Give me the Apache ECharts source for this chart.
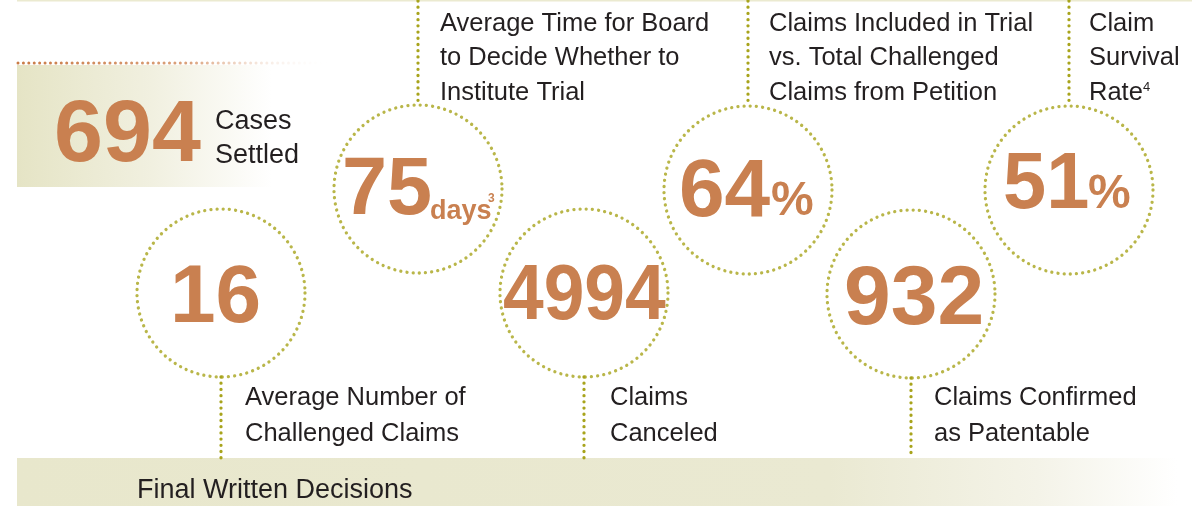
<!DOCTYPE html>
<html>
<head>
<meta charset="utf-8">
<script src="https://cdn.jsdelivr.net/npm/echarts@6/dist/echarts.min.js"></script>
<style>
html,body{margin:0;padding:0;background:#fff;}
#chart{width:1192px;height:506px;}
</style>
</head>
<body>
<div id="chart"></div>
<script>
// ---------- data ----------
const settledValue = '694';
const settledLabel = ['Cases', 'Settled'];
const statValues = ['16', '75', '4994', '64', '932', '51'];
const statUnits = ['', 'days', '', '%', '', '%'];
const statUnitNotes = ['', '3', '', '', '', ''];
const statLabels = [
  ['Average Number of', 'Challenged Claims'],
  ['Average Time for Board', 'to Decide Whether to', 'Institute Trial'],
  ['Claims', 'Canceled'],
  ['Claims Included in Trial', 'vs. Total Challenged', 'Claims from Petition'],
  ['Claims Confirmed', 'as Patentable'],
  ['Claim', 'Survival', 'Rate']
];
const statLabelNotes = ['', '', '', '', '', '4'];
const footerLabel = 'Final Written Decisions';

// ---------- layout (positions / styles) ----------
const W = 1192, H = 506;
const circleCenters = [[221, 293], [418, 189], [584, 293], [748, 190], [911, 294], [1069, 190]];
const circleR = 84;
const connectorSide = ['bottom', 'top', 'bottom', 'top', 'bottom', 'top'];
const bandTop = 458;
// number: [left x, center y, font size, scaleX]
const numberLayout = [[170, 299.5, 82, 1], [342, 191.5, 81, 1], [503, 297.5, 77, 0.95], [679, 193, 82, 1], [844, 300.5, 84, 1], [1003, 185.5, 80, 0.97]];
// unit: [x, y, font size]
const unitLayout = [null, [430, 212, 27], null, [771, 202, 48], null, [1088, 195, 48]];
const unitNoteLayout = [null, [488, 199, 12], null, null, null, null];
// label: [x, first line center y, line height]
const labelLayout = [[245, 398, 35.5], [440, 23.5, 34.5], [610, 398, 35.5], [769, 23.5, 34.5], [934, 398, 35.5], [1089, 23.5, 34.5]];
const labelNoteLayout = [null, null, null, null, null, [1143, 87, 13]];

const ORANGE = '#c98050';
const OLIVE = '#a8a41c';
const TEXT = '#231f20';
const FONT = '"Liberation Sans", Arial, Helvetica, sans-serif';
const DOTS = [0.01, 6.2];

const chart = echarts.init(document.getElementById('chart'), null, {renderer: 'canvas'});

const graphics = [];
// top hairline
graphics.push({type: 'rect', shape: {x: 17, y: 0, width: W - 17, height: 1.5}, style: {fill: '#ebead0'}, z: 1});
// 694 box
graphics.push({type: 'rect', shape: {x: 17, y: 65, width: 300, height: 122},
  style: {fill: new echarts.graphic.LinearGradient(0, 0, 1, 0, [
    {offset: 0, color: '#e5e4c5'}, {offset: 0.45, color: '#f1f0e0'}, {offset: 0.85, color: '#ffffff'}, {offset: 1, color: '#ffffff'}])}, z: 1});
graphics.push({type: 'line', shape: {x1: 18, y1: 63, x2: 330, y2: 63},
  style: {stroke: new echarts.graphic.LinearGradient(0, 0, 1, 0, [
    {offset: 0, color: '#c97a45'}, {offset: 0.55, color: '#dba27c'}, {offset: 1, color: 'rgba(255,255,255,0)'}]),
    lineWidth: 3, lineDash: [0.01, 5.4], lineCap: 'round'}, z: 2});
// footer band
graphics.push({type: 'rect', shape: {x: 17, y: bandTop, width: 1160, height: H - bandTop},
  style: {fill: new echarts.graphic.LinearGradient(0, 0, 1, 0, [
    {offset: 0, color: '#e8e7cc'}, {offset: 0.7, color: '#eae9d2'}, {offset: 0.88, color: '#f4f3e8'}, {offset: 1, color: '#ffffff'}])}, z: 1});
graphics.push({type: 'text', x: 137, y: 490.5, style: {text: footerLabel, font: '27px ' + FONT, fill: TEXT, verticalAlign: 'middle', align: 'left'}, z: 5});

// 694 cases settled
graphics.push({type: 'text', x: 54, y: 137, style: {text: settledValue, font: 'bold 88px ' + FONT, fill: ORANGE, verticalAlign: 'middle', align: 'left'}, z: 5});
graphics.push({type: 'text', x: 215, y: 104.5, style: {text: settledLabel.join('\n'), font: '27px ' + FONT, lineHeight: 34, fill: TEXT, verticalAlign: 'top', align: 'left'}, z: 5});

// connectors, numbers, labels
circleCenters.forEach(function (c, i) {
  const cx = c[0], cy = c[1];
  const y1 = connectorSide[i] === 'top' ? 1 : cy + circleR;
  const y2 = connectorSide[i] === 'top' ? cy - circleR : bandTop;
  graphics.push({type: 'line', shape: {x1: cx, y1: y1, x2: cx, y2: y2},
    style: {stroke: OLIVE, lineWidth: 3.3, lineDash: DOTS, lineCap: 'round'}, z: 3});
  const nl = numberLayout[i];
  graphics.push({type: 'text', x: nl[0], y: nl[1], scaleX: nl[3],
    style: {text: statValues[i], font: 'bold ' + nl[2] + 'px ' + FONT, fill: ORANGE, verticalAlign: 'middle', align: 'left'}, z: 5});
  if (statUnits[i]) {
    const ul = unitLayout[i];
    graphics.push({type: 'text', x: ul[0], y: ul[1],
      style: {text: statUnits[i], font: 'bold ' + ul[2] + 'px ' + FONT, fill: ORANGE, verticalAlign: 'middle', align: 'left'}, z: 5});
  }
  if (statUnitNotes[i]) {
    const sl = unitNoteLayout[i];
    graphics.push({type: 'text', x: sl[0], y: sl[1],
      style: {text: statUnitNotes[i], font: 'bold ' + sl[2] + 'px ' + FONT, fill: ORANGE, verticalAlign: 'middle', align: 'left'}, z: 5});
  }
  const ll = labelLayout[i];
  graphics.push({type: 'text', x: ll[0], y: ll[1] - ll[2] / 2,
    style: {text: statLabels[i].join('\n'), font: '25.5px ' + FONT, lineHeight: ll[2], fill: TEXT, verticalAlign: 'top', align: 'left'}, z: 5});
  if (statLabelNotes[i]) {
    const nn = labelNoteLayout[i];
    graphics.push({type: 'text', x: nn[0], y: nn[1],
      style: {text: statLabelNotes[i], font: nn[2] + 'px ' + FONT, fill: TEXT, verticalAlign: 'middle', align: 'left'}, z: 5});
  }
});

chart.setOption({
  animation: false,
  backgroundColor: '#ffffff',
  grid: {left: 0, right: 0, top: 0, bottom: 0},
  xAxis: {type: 'value', min: 0, max: W, show: false},
  yAxis: {type: 'value', min: 0, max: H, inverse: true, show: false},
  series: [{
    type: 'scatter',
    symbol: 'circle',
    symbolSize: circleR * 2,
    silent: true,
    z: 4,
    data: circleCenters.map(function (c, i) { return {value: [c[0], c[1]], name: statValues[i]}; }),
    itemStyle: {color: 'rgba(0,0,0,0)', borderColor: OLIVE, borderWidth: 3.3, borderType: DOTS, borderCap: 'round'}
  }],
  graphic: {elements: graphics}
});
</script>
</body>
</html>
